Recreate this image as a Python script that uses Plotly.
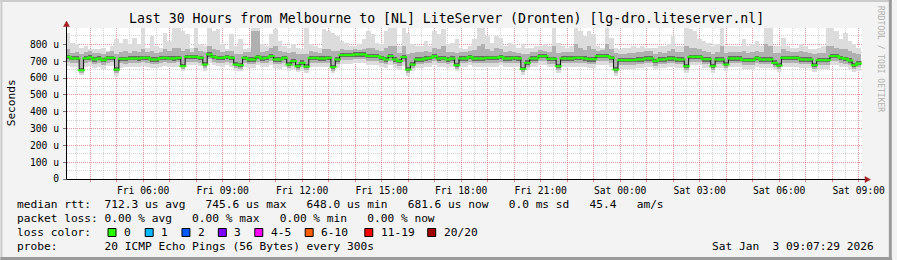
import numpy as np
import pandas as pd
import plotly.graph_objects as go

# ---------------- data (10-minute steps, values in microseconds) ----------------
times = pd.date_range("2026-01-02 03:10", periods=180, freq="10min")

median = [
    726,716,716,646,716,722,710,716,706,720,
    720,650,714,714,716,716,716,720,720,710,
    710,718,720,716,716,720,670,726,726,726,
    720,680,740,726,720,720,726,720,680,676,
    720,710,710,726,716,720,730,710,710,720,
    680,700,670,690,668,718,720,716,716,720,
    664,710,736,736,736,740,740,740,730,730,
    730,720,710,730,710,700,724,650,680,710,
    710,716,720,730,716,718,710,716,676,716,
    716,726,716,716,716,720,720,720,726,716,
    716,720,716,654,690,716,716,730,730,714,
    714,670,716,716,716,720,720,716,712,712,
    730,730,730,720,650,706,706,706,706,710,
    710,716,716,700,710,710,716,716,710,710,
    670,726,726,726,712,712,670,710,710,680,
    716,716,716,706,706,706,720,710,710,710,
    690,674,720,720,720,720,710,710,710,676,
    706,706,706,730,730,720,714,704,676,686,
]
p25 = [
    712,704,704,640,704,708,698,704,696,706,
    708,644,702,700,704,704,702,708,706,698,
    698,706,708,704,702,708,664,712,712,712,
    706,672,726,712,706,708,712,706,672,668,
    706,698,698,712,702,706,716,698,696,706,
    672,688,662,678,660,704,706,702,702,706,
    656,698,722,722,722,726,726,726,716,716,
    716,706,696,716,698,688,710,642,672,696,
    696,702,706,716,702,704,696,702,668,702,
    702,712,702,702,702,706,706,706,712,702,
    702,706,702,646,680,702,702,716,716,700,
    700,662,702,702,702,706,706,702,698,698,
    716,716,716,706,642,694,694,694,694,696,
    696,702,702,688,696,696,702,702,696,696,
    662,712,712,712,698,698,662,696,696,672,
    702,702,702,694,694,694,706,696,696,696,
    680,666,706,706,706,706,696,696,696,668,
    694,694,694,716,716,706,700,692,668,676,
]
p75 = [
    738,728,728,660,728,734,722,728,718,732,
    732,664,726,726,728,728,728,732,732,722,
    722,730,732,728,728,732,684,738,738,738,
    732,694,752,738,732,732,738,732,694,690,
    732,722,722,738,728,732,742,722,722,732,
    694,712,684,706,682,730,732,728,728,732,
    678,722,748,748,748,752,752,752,742,742,
    742,732,722,742,722,712,736,664,694,722,
    722,728,732,742,728,730,722,728,690,728,
    728,738,728,728,728,732,732,732,738,728,
    728,732,728,668,704,728,728,742,742,726,
    726,684,728,728,728,732,732,728,724,724,
    742,742,742,732,664,718,718,718,718,722,
    722,728,728,712,722,722,728,728,722,722,
    684,738,738,738,724,724,684,722,722,694,
    728,728,728,718,718,718,732,722,722,722,
    704,688,732,732,732,732,722,722,722,690,
    718,718,718,742,742,732,726,716,690,700,
]
p10 = [
    694,690,688,630,690,694,684,690,680,692,
    694,632,688,686,690,690,688,694,692,684,
    684,692,694,690,688,694,652,698,698,698,
    692,660,710,698,692,692,698,692,660,656,
    692,684,684,698,688,692,702,684,682,692,
    660,674,650,664,648,690,692,688,688,692,
    644,684,706,708,708,712,712,712,702,702,
    702,692,682,702,684,674,696,630,658,682,
    682,688,692,702,688,690,682,688,656,688,
    688,698,688,688,688,692,692,692,698,688,
    688,692,688,634,666,688,688,702,702,686,
    686,650,688,688,688,692,692,688,684,684,
    702,702,702,692,630,680,680,680,680,684,
    684,688,688,674,682,682,688,688,682,682,
    650,698,698,698,684,684,650,682,682,660,
    688,688,688,680,680,680,692,682,682,682,
    666,654,692,692,692,692,682,682,682,656,
    680,680,680,702,702,692,686,678,656,664,
]
p90 = [
    770,750,756,740,752,760,748,750,742,756,
    762,744,756,760,750,758,754,770,752,762,
    748,756,770,760,780,780,760,770,752,780,
    758,752,790,770,764,756,760,762,744,740,
    752,756,880,880,756,762,780,790,760,756,
    748,752,740,744,740,762,756,750,772,770,
    760,758,770,768,766,770,768,772,780,776,
    766,760,780,790,790,748,790,740,750,752,
    756,760,756,780,770,790,756,752,748,752,
    754,760,764,790,800,770,760,776,770,756,
    758,756,750,740,744,752,756,766,762,756,
    790,748,754,752,756,800,780,768,790,770,
    762,766,800,772,748,744,744,746,746,752,
    754,758,758,744,752,750,760,770,756,754,
    790,780,776,770,760,756,740,752,790,748,
    756,756,754,760,746,752,762,752,800,790,
    750,746,770,762,756,756,760,752,750,740,
    746,748,790,790,780,770,770,760,750,740,
]
mn = [
    670,668,664,620,666,672,660,668,656,672,
    670,612,662,664,668,668,664,672,668,660,
    660,666,672,664,664,668,640,676,676,678,
    670,644,688,676,670,668,676,668,644,640,
    666,660,660,676,664,668,680,660,656,668,
    640,650,636,644,630,668,668,664,664,668,
    628,660,684,686,686,690,690,690,680,680,
    680,668,658,680,660,650,672,612,640,660,
    660,664,668,680,664,668,660,664,640,664,
    664,676,664,664,664,668,668,668,676,664,
    664,668,664,616,646,664,664,680,680,664,
    664,632,664,664,664,668,668,664,660,660,
    680,680,680,668,612,656,656,656,656,660,
    660,664,664,652,660,660,664,664,660,660,
    630,676,676,676,660,660,632,660,660,640,
    664,664,664,656,656,656,668,660,660,660,
    646,636,668,668,668,668,660,660,660,638,
    656,656,656,680,680,668,664,654,636,644,
]
mx = [
    870,810,800,780,790,770,770,770,780,760,
    790,830,810,830,800,840,800,900,780,850,
    790,780,870,820,900,900,880,860,780,900,
    800,790,900,880,890,800,770,860,790,830,
    770,780,900,900,800,790,860,890,820,790,
    780,800,780,770,900,800,790,780,890,880,
    870,850,820,810,790,790,800,830,880,860,
    810,800,880,900,900,790,900,870,800,790,
    790,820,790,880,860,890,800,810,830,780,
    770,790,830,900,900,850,810,850,840,790,
    810,800,780,800,780,780,790,790,800,790,
    900,810,790,780,790,900,880,850,880,860,
    790,780,900,840,780,770,780,780,790,780,
    790,780,780,780,790,790,800,850,790,790,
    900,890,880,830,820,810,790,800,900,790,
    790,790,790,830,790,800,820,790,900,900,
    790,790,840,790,780,780,800,790,770,770,
    780,790,900,900,880,830,870,820,800,780,
]

y_tickvals = [0, 100, 200, 300, 400, 500, 600, 700, 800]
y_ticktext = ["0", "100 u", "200 u", "300 u", "400 u", "500 u", "600 u", "700 u", "800 u"]

title_text = "Last 30 Hours from Melbourne to [NL] LiteServer (Dronten) [lg-dro.liteserver.nl]"
legend_lines = [
    "median rtt:  712.3 us avg   745.6 us max   648.0 us min   681.6 us now   0.0 ms sd   45.4   am/s",
    "packet loss: 0.00 % avg   0.00 % max   0.00 % min   0.00 % now",
    "loss color:",
    "probe:       20 ICMP Echo Pings (56 Bytes) every 300s",
]
loss_labels = ["0", "1", "2", "3", "4-5", "6-10", "11-19", "20/20"]
loss_colors = ["#26ff00", "#00b8ff", "#0059ff", "#7e00ff", "#ff00ff", "#ff5e00", "#ff0000", "#a10000"]
stamp_text = "Sat Jan  3 09:07:29 2026"

# ---------------- layout helpers ----------------
W, H = 897, 260
L, R, T, B = 67, 867, 28, 179


def fx(px):
    return (px - L) / (R - L)


def fy(py):
    return (B - py) / (B - T)


def nb(s):
    return s.replace(" ", "\u00a0")


MONO = "DejaVu Sans Mono"
x_start = pd.Timestamp("2026-01-02 03:07:29")
x_end = pd.Timestamp("2026-01-03 09:07:29")
step_ms = 10 * 60 * 1000

fig = go.Figure()

bands = [(mn, mx, "#dcdcdc"), (p10, p90, "#b0b0b0"), (p25, p75, "#6a6a6a")]
for lo, hi, col in bands:
    fig.add_trace(go.Bar(
        x=times, y=np.array(hi) - np.array(lo), base=lo, width=step_ms,
        marker=dict(color=col, line=dict(width=0)), showlegend=False, hoverinfo="skip",
    ))

fig.add_trace(go.Scatter(
    x=times, y=median, mode="lines", line=dict(color="#111111", width=1, shape="hvh"),
    showlegend=False, hoverinfo="skip",
))
fig.add_trace(go.Scatter(
    x=times, y=median, mode="markers",
    marker=dict(symbol="line-ew", size=5, color="#26ff00", line=dict(color="#26ff00", width=2)),
    showlegend=False, hoverinfo="skip",
))

hour_ticks = pd.date_range("2026-01-02 04:00", "2026-01-03 09:00", freq="1h")
hour_text = [t.strftime("%a %H:%M") if t.hour % 3 == 0 else "" for t in hour_ticks]

MAJOR = "rgba(255,70,70,0.42)"
MINOR = "rgba(128,128,128,0.35)"

fig.update_layout(
    width=W, height=H,
    margin=dict(l=L, r=W - R, t=T, b=H - B, pad=0),
    paper_bgcolor="#f3f3f3", plot_bgcolor="#ffffff",
    barmode="overlay", bargap=0,
    showlegend=False,
    font=dict(family=MONO, color="#000000"),
    xaxis=dict(
        type="date", range=[x_start, x_end], fixedrange=True,
        tickvals=list(hour_ticks), ticktext=hour_text,
        tickfont=dict(family=MONO, size=9.7, color="#000000"),
        ticks="outside", ticklen=2, tickcolor="#f08080",
        showgrid=True, gridcolor=MAJOR, griddash="1px,1px", gridwidth=1,
        minor=dict(dtick=30 * 60 * 1000, tick0="2026-01-02 00:00", showgrid=True,
                   gridcolor=MINOR, griddash="1px,1px", ticks=""),
        showline=False, zeroline=False,
    ),
    yaxis=dict(
        range=[0, 897], fixedrange=True,
        tickvals=y_tickvals, ticktext=y_ticktext,
        tickfont=dict(family=MONO, size=9.7, color="#000000"),
        ticks="outside", ticklen=3, tickcolor="#777777", ticklabelstandoff=2,
        showgrid=True, gridcolor=MAJOR, griddash="1px,1px", gridwidth=1,
        minor=dict(dtick=50, showgrid=True, gridcolor=MINOR,
                   griddash="1px,1px", ticks=""),
        showline=False, zeroline=False,
    ),
)

shapes = []
# frame shading
shapes.append(dict(type="rect", xref="paper", yref="paper", x0=fx(0), x1=fx(W), y0=fy(0), y1=fy(2),
                   fillcolor="#cbcbcb", line=dict(width=0), layer="below"))
shapes.append(dict(type="rect", xref="paper", yref="paper", x0=fx(0), x1=fx(2), y0=fy(0), y1=fy(H),
                   fillcolor="#cbcbcb", line=dict(width=0), layer="below"))
shapes.append(dict(type="rect", xref="paper", yref="paper", x0=fx(W - 3), x1=fx(W), y0=fy(0), y1=fy(H),
                   fillcolor="#9a9a9a", line=dict(width=0), layer="below"))
shapes.append(dict(type="rect", xref="paper", yref="paper", x0=fx(0), x1=fx(W), y0=fy(H - 3), y1=fy(H),
                   fillcolor="#9a9a9a", line=dict(width=0), layer="below"))
# axes with arrows
shapes.append(dict(type="line", xref="paper", yref="paper", x0=fx(L - 0.5), x1=fx(L - 0.5), y0=fy(B + 0.5), y1=fy(24),
                   line=dict(color="#000000", width=1)))
shapes.append(dict(type="line", xref="paper", yref="paper", x0=fx(L - 0.5), x1=fx(R + 4), y0=fy(B + 0.5), y1=fy(B + 0.5),
                   line=dict(color="#000000", width=1)))
shapes.append(dict(type="path", xref="paper", yref="paper",
                   path=f"M {fx(L-3.5)} {fy(26.5)} L {fx(L+2.5)} {fy(26.5)} L {fx(L-0.5)} {fy(21)} Z",
                   fillcolor="#a02020", line=dict(color="#a02020", width=0.5)))
shapes.append(dict(type="path", xref="paper", yref="paper",
                   path=f"M {fx(R+3)} {fy(B-2.5)} L {fx(R+3)} {fy(B+3.5)} L {fx(R+8.5)} {fy(B+0.5)} Z",
                   fillcolor="#a02020", line=dict(color="#a02020", width=0.5)))

annotations = []
annotations.append(dict(text=nb(title_text), xref="paper", yref="paper", x=fx(448.5), y=fy(19),
                        xanchor="center", yanchor="middle", showarrow=False,
                        font=dict(family=MONO, size=13.2, color="#000000")))
annotations.append(dict(text="Seconds", xref="paper", yref="paper", x=fx(11), y=fy(103),
                        xanchor="center", yanchor="middle", showarrow=False, textangle=-90,
                        font=dict(family=MONO, size=11.2, color="#000000")))
annotations.append(dict(text=nb("RRDTOOL / TOBI OETIKER"), xref="paper", yref="paper", x=fx(886), y=fy(59),
                        xanchor="center", yanchor="middle", showarrow=False, textangle=90,
                        font=dict(family=MONO, size=8, color="#b0b0b0")))
for txt, py in zip(legend_lines, [204, 218, 232, 246]):
    annotations.append(dict(text=nb(txt), xref="paper", yref="paper", x=fx(15), y=fy(py),
                            xanchor="left", yanchor="middle", showarrow=False,
                            font=dict(family=MONO, size=11.2, color="#000000")))
annotations.append(dict(text=nb(stamp_text), xref="paper", yref="paper", x=fx(881), y=fy(246),
                        xanchor="right", yanchor="middle", showarrow=False,
                        font=dict(family=MONO, size=11.2, color="#000000")))
box_left = [108.3, 145.7, 182.7, 219.3, 256.0, 306.7, 366.7, 430.0]
for bx, lab, col in zip(box_left, loss_labels, loss_colors):
    shapes.append(dict(type="rect", xref="paper", yref="paper", x0=fx(bx), x1=fx(bx + 8),
                       y0=fy(228.5), y1=fy(236.5), fillcolor=col, line=dict(color="#000000", width=1)))
    annotations.append(dict(text=lab, xref="paper", yref="paper", x=fx(bx + 14), y=fy(232),
                            xanchor="left", yanchor="middle", showarrow=False,
                            font=dict(family=MONO, size=11.2, color="#000000")))

fig.update_layout(shapes=shapes, annotations=annotations)
fig.write_html("out.html")
